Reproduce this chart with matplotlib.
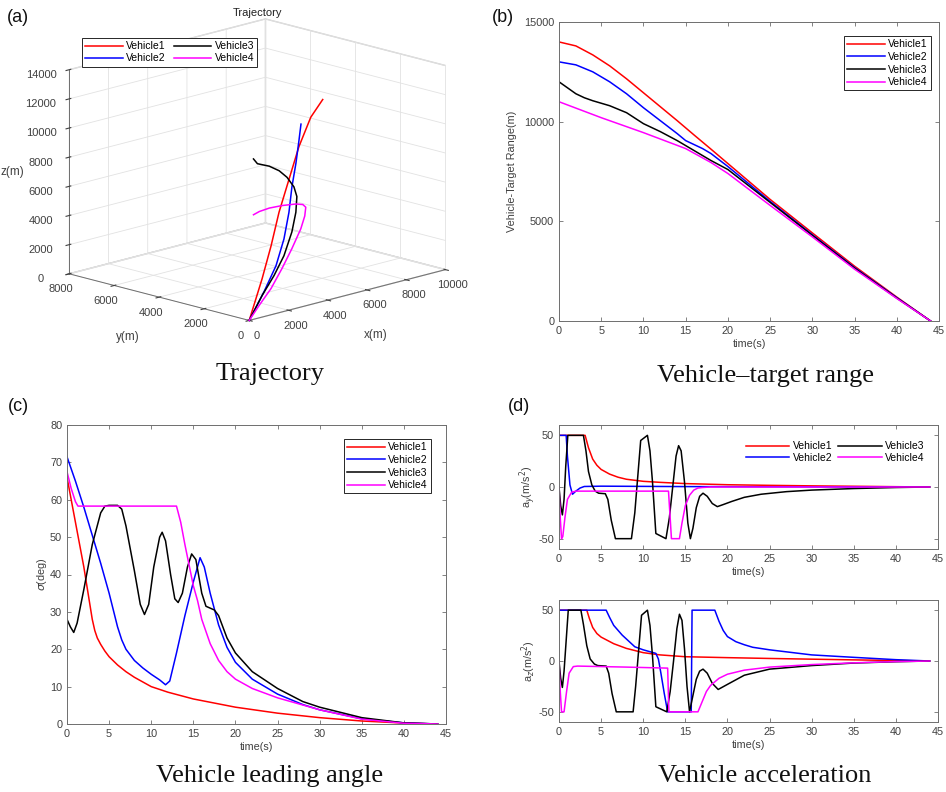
import matplotlib
matplotlib.use('Agg')
import matplotlib.pyplot as plt

plt.rcParams['font.family'] = ['Liberation Sans', 'DejaVu Sans']
plt.rcParams['font.size'] = 7.8
plt.rcParams['axes.unicode_minus'] = False

names = ['Vehicle1', 'Vehicle2', 'Vehicle3', 'Vehicle4']
colors = ['#ff0000', '#0000ff', '#000000', '#ff00ff']

# (a) 3D trajectories, from target (origin) back to launch point
v1_x = [0, 1000, 2000, 3000, 4000, 5000, 6500, 8000]
v1_y = [0, 299, 774, 1292, 1723, 2154, 2932, 3710]
v1_z = [0, 2394, 4102, 5856, 7582, 9306, 10504, 10883]
v2_x = [0, 1000, 2000, 3000, 4000, 5000, 6000, 7200, 8500]
v2_y = [0, 211, 554, 1073, 1723, 2462, 3156, 4069, 5112]
v2_z = [0, 1547, 2832, 4109, 5328, 6440, 7436, 8199, 8462]
v3_x = [0, 800, 1600, 2400, 3200, 4000, 4700, 5300, 6000, 6600, 7200, 7800, 8200]
v3_y = [0, 125, 294, 550, 895, 1415, 1981, 2635, 3552, 4425, 5387, 6437, 6961]
v3_z = [0, 1380, 2399, 3380, 4596, 5462, 6069, 6263, 6307, 6200, 5918, 5461, 5438]
v4_x = [0, 600, 1300, 2000, 2700, 3400, 4000, 4500, 5200, 6000, 6700, 7400, 7900, 8300]
v4_y = [0, 83, 164, 290, 460, 673, 1020, 1411, 2152, 3156, 4381, 5561, 6436, 7048]
v4_z = [0, 784, 1670, 2742, 3795, 4829, 5361, 5634, 5278, 4636, 3795, 2906, 2149, 1541]

# (b) vehicle-target range
r1_t = [0, 2, 4, 6, 8, 10, 12, 14, 16, 18, 20, 25, 30, 35, 40, 44]
r1 = [14000, 13800, 13350, 12800, 12150, 11450, 10750, 10050, 9330, 8620, 7900, 6100, 4420, 2750, 1200, 0]
r2_t = [0, 2, 4, 6, 8, 10, 12, 14, 15, 16, 17, 18, 20, 25, 30, 35, 40, 44]
r2 = [13000, 12850, 12500, 12000, 11400, 10700, 10050, 9400, 9050, 8850, 8650, 8400, 7750, 6000, 4330, 2680, 1170, 0]
r3_t = [0, 1, 2, 3, 4, 6, 8, 10, 11, 12, 14, 16, 18, 20, 25, 30, 35, 40, 44]
r3 = [12000, 11700, 11400, 11200, 11050, 10800, 10450, 9900, 9700, 9500, 9050, 8550, 8050, 7600, 5950, 4300, 2650, 1150, 0]
r4_t = [0, 5, 10, 15, 18, 20, 25, 30, 35, 40, 44]
r4 = [11000, 10200, 9450, 8650, 7950, 7400, 5800, 4220, 2600, 1130, 0]

# (c) leading angle sigma (deg)
s1_t = [0, 0.5, 1, 1.5, 2, 2.5, 3, 3.3, 3.6, 4, 4.5, 5, 6, 7, 8, 10, 12, 15, 20, 25, 30, 35, 40, 44]
s1 = [66, 60, 54, 48, 42, 35, 28, 25, 23, 21.3, 19.5, 18, 15.8, 14, 12.5, 10, 8.5, 6.7, 4.5, 2.9, 1.7, 0.8, 0.25, 0]
s2_t = [0, 1, 2, 3, 4, 5, 6, 6.5, 7, 8, 9, 10, 11, 11.7, 12.2, 13, 14, 15, 15.8, 16.3, 17, 18, 19, 20, 22, 25, 28, 30, 35, 40, 44]
s2 = [71.5, 65, 58, 50.5, 43, 35, 26, 22.5, 20, 17, 15, 13.3, 11.8, 10.5, 11.5, 19, 29, 38, 44.5, 42, 35, 26.5, 20.5, 16.5, 12, 8, 5.2, 3.8, 1.4, 0.3, 0]
s3_t = [0, 0.4, 0.8, 1.2, 2, 3, 4, 4.5, 5, 6, 6.5, 7, 8, 8.7, 9.2, 9.7, 10.3, 11, 11.3, 11.7, 12.3, 12.8, 13.2, 13.7,
        14.3, 14.8, 15.3, 16, 16.5, 17.5, 18, 19, 20, 22, 25, 28, 30, 35, 40, 44]
s3 = [28, 26, 24.5, 27, 36, 48, 56.5, 58.3, 58.5, 58.5, 57.5, 53, 41, 32, 29.3, 32, 42, 50, 51.3, 49, 40, 33.5, 32.5, 35,
      42, 45.5, 44, 35, 31.5, 30.5, 29, 23, 19, 14, 9.5, 6, 4.5, 1.7, 0.3, 0]
s4_t = [0, 0.5, 1, 1.3, 13, 13.5, 14, 15, 15.5, 16, 17, 18, 19, 20, 22, 25, 30, 35, 40, 44]
s4 = [67.5, 63, 59.5, 58.3, 58.3, 54, 48, 37, 33, 28, 21.5, 17, 14, 12, 9.5, 7, 3.8, 1.3, 0.2, 0]

# (d) accelerations a_y, a_z (m/s^2)
ay1_t = [0, 3.1, 3.5, 4, 4.5, 5, 6, 7, 8, 10, 12, 15, 20, 25, 30, 35, 40, 44]
ay1 = [50, 50, 38, 27, 21, 17, 12.5, 9.5, 7.5, 5.5, 4.5, 3.3, 2.2, 1.6, 1.1, 0.7, 0.3, 0]
ay2_t = [0, 0.85, 1.0, 1.3, 1.6, 2.0, 2.5, 3.0, 5, 10, 15, 20, 30, 44]
ay2 = [50, 50, 30, 2, -7, -4, -1, 0.5, 0.8, 0.6, 0.4, 0.3, 0.1, 0]
ay3_t = [0, 0.2, 0.4, 0.6, 0.8, 1.05, 2.9, 3.2, 3.5, 3.9, 4.3, 4.7, 5.5, 5.8, 6.2, 6.7, 8.6, 9.0, 9.3, 9.7, 10.5, 10.8,
         11.1, 11.5, 12.7, 13.1, 13.5, 13.9, 14.2, 14.5, 14.9, 15.3, 15.6, 15.9, 16.3, 16.7, 17.1, 17.6, 18.2, 18.8,
         19.5, 20.5, 22, 24, 27, 30, 35, 40, 44]
ay3 = [0, -18, -27, -12, 20, 50, 50, 35, 15, 2, -4, -6, -6.5, -12, -32, -50, -50, -25, 5, 45, 50, 35,
       5, -45, -50, -30, 0, 30, 40, 35, 5, -35, -50, -40, -20, -9, -6, -9, -16, -19,
       -17, -14, -10, -7, -4.5, -3, -1.5, -0.5, 0]
ay4_t = [0, 0.15, 0.3, 0.45, 0.7, 1.0, 1.5, 2.0, 13.0, 13.2, 13.35, 14.3, 14.6, 15.0, 15.5, 16.0, 16.5, 17.0, 18, 44]
ay4 = [0, -30, -50, -48, -30, -12, -5, -4, -4, -30, -50, -50, -35, -18, -8, -3, -1, -0.5, 0, 0]

az1_t = [0, 3.3, 3.6, 4, 4.5, 5, 6.5, 8, 10, 12, 15, 20, 25, 30, 35, 40, 44]
az1 = [50, 50, 42, 33, 27, 23.5, 17, 12.4, 8.2, 6, 4.2, 3.3, 2.5, 1.8, 1.1, 0.5, 0]
az2_t = [0, 5.6, 6, 6.5, 7.5, 9, 10, 11.5, 11.8, 12.1, 12.5, 12.9, 15.7, 15.8, 18.5, 19, 19.5, 20, 21, 22, 23, 25, 30, 35, 40, 44]
az2 = [50, 50, 43, 35, 25.5, 14, 11, 7.5, 2, -12, -32, -50, -50, 50, 50, 39, 30, 24, 19, 16, 13.5, 11, 6, 3.6, 1.3, 0]
az3_t = [0, 0.2, 0.4, 0.6, 0.85, 1.1, 2.6, 2.9, 3.3, 3.7, 4.2, 4.6, 5.6, 5.9, 6.3, 6.8, 8.8, 9.1, 9.4, 9.8, 10.5, 10.8,
         11.1, 11.5, 12.8, 13.2, 13.6, 14.0, 14.3, 14.6, 14.9, 15.2, 15.5, 15.8, 16.3, 16.7, 17.1, 17.6, 18.2, 18.9,
         20, 22, 25, 30, 35, 40, 44]
az3 = [0, -17, -26, -10, 20, 50, 50, 36, 15, 2, -3, -4.5, -5, -12, -32, -50, -50, -25, 5, 45, 50, 35,
       5, -45, -50, -30, 0, 32, 46, 40, 12, -25, -50, -38, -18, -10, -8, -12, -22, -28,
       -23, -14, -8, -4.5, -2, -0.7, 0]
az4_t = [0, 0.15, 0.3, 0.6, 0.9, 1.2, 1.7, 2.2, 8, 12.9, 13.05, 16.5, 17, 17.5, 18, 19, 20, 22, 25, 30, 35, 40, 44]
az4 = [0, -30, -50, -50, -30, -12, -5.5, -5, -6, -7, -50, -50, -40, -30, -24, -17, -13, -9, -6, -3.5, -1.8, -0.6, 0]

W, H = 946, 792
fig = plt.figure(figsize=(W / 100, H / 100), dpi=100)

tick_col = '#404040'
spine_col = '#6e6e6e'
lw = 1.1


def box(x0, y0, x1, y1):
    # pixel box (top-left origin) -> figure rect
    return [x0 / W, 1 - y1 / H, (x1 - x0) / W, (y1 - y0) / H]


def style2d(ax):
    for s in ax.spines.values():
        s.set_color(spine_col)
        s.set_linewidth(0.7)
    ax.tick_params(direction='in', top=True, right=True, length=3, width=0.6,
                   colors=spine_col, labelcolor=tick_col, labelsize=7.8)


def legend_style(leg, frame=True):
    fr = leg.get_frame()
    fr.set_edgecolor('#262626' if frame else 'none')
    fr.set_linewidth(0.7)
    fr.set_boxstyle('square', pad=0)


# ---------- (a) ----------
ax3 = fig.add_axes(box(18, 14, 488, 334), projection='3d')
trajs = [(v1_x, v1_y, v1_z), (v2_x, v2_y, v2_z), (v3_x, v3_y, v3_z), (v4_x, v4_y, v4_z)]
for (x, y, z), c, n in zip(trajs, colors, names):
    ax3.plot(x, y, z, color=c, lw=lw, label=n)
ax3.set_xlim(0, 10000)
ax3.set_ylim(0, 8000)
ax3.set_zlim(0, 14000)
ax3.set_xticks(range(0, 10001, 2000))
ax3.set_yticks(range(0, 8001, 2000))
ax3.set_zticks(range(0, 14001, 2000))
ax3.set_proj_type('ortho')
ax3.view_init(elev=15, azim=-135)
ax3.set_box_aspect((1.09, 1, 0.83), zoom=1.31)
for a in (ax3.xaxis, ax3.yaxis, ax3.zaxis):
    a.set_pane_color((1, 1, 1, 1))
    a.pane.set_edgecolor('#d0d0d0')
    a._axinfo['grid']['color'] = '#e2e2e2'
    a._axinfo['grid']['linewidth'] = 0.6
    a.line.set_color(spine_col)
    a.line.set_linewidth(0.7)
ax3.tick_params(axis='x', labelsize=8, colors=tick_col, pad=-3)
ax3.tick_params(axis='y', labelsize=8, colors=tick_col, pad=-3)
ax3.tick_params(axis='z', labelsize=8, colors=tick_col, pad=1)
ax3.set_xlabel('x(m)', color=tick_col, labelpad=-2, fontsize=8.5)
ax3.set_ylabel('y(m)', color=tick_col, labelpad=-2, fontsize=8.5)
ax3.set_zlabel('z(m)', color=tick_col, labelpad=-3, fontsize=8.5)
leg = ax3.legend(ncol=2, loc='upper left', bbox_to_anchor=(77 / W, 1 - 33 / H),
                 bbox_transform=fig.transFigure, fontsize=7.5, handlelength=3.6,
                 columnspacing=0.8, borderpad=0.3, labelspacing=0.2, handletextpad=0.3,
                 fancybox=False, framealpha=1)
legend_style(leg)
fig.text(257 / W, 1 - 13 / H, 'Trajectory', ha='center', va='center', fontsize=8, color='#202020')

# ---------- (b) ----------
axb = fig.add_axes(box(559, 22, 939, 321))
for (t, r), c, n in zip([(r1_t, r1), (r2_t, r2), (r3_t, r3), (r4_t, r4)], colors, names):
    axb.plot(t, r, color=c, lw=lw, label=n)
axb.set_xlim(0, 45)
axb.set_ylim(0, 15000)
axb.set_xticks(range(0, 46, 5))
axb.set_yticks([0, 5000, 10000, 15000])
style2d(axb)
axb.set_xlabel('time(s)', color=tick_col, labelpad=2)
axb.set_ylabel('Vehicle-Target Range(m)', color=tick_col, labelpad=5)
leg = axb.legend(loc='upper right', bbox_to_anchor=(936 / W, 1 - 31 / H), bbox_transform=fig.transFigure,
                 fontsize=7.5, handlelength=3.6, borderpad=0.3, labelspacing=0.25, handletextpad=0.3,
                 fancybox=False, framealpha=1)
legend_style(leg)

# ---------- (c) ----------
axc = fig.add_axes(box(67, 425, 446, 724))
for (t, s), c, n in zip([(s1_t, s1), (s2_t, s2), (s3_t, s3), (s4_t, s4)], colors, names):
    axc.plot(t, s, color=c, lw=lw, label=n)
axc.set_xlim(0, 45)
axc.set_ylim(0, 80)
axc.set_xticks(range(0, 46, 5))
axc.set_yticks(range(0, 81, 10))
style2d(axc)
axc.set_xlabel('time(s)', color=tick_col, labelpad=2)
axc.set_ylabel(r'$\sigma$(deg)', color=tick_col, labelpad=1)
leg = axc.legend(loc='upper right', bbox_to_anchor=(436 / W, 1 - 434 / H), bbox_transform=fig.transFigure,
                 fontsize=7.5, handlelength=3.6, borderpad=0.3, labelspacing=0.25, handletextpad=0.3,
                 fancybox=False, framealpha=1)
legend_style(leg)

# ---------- (d) ----------
axd1 = fig.add_axes(box(559, 425, 938, 549))
for (t, a), c, n in zip([(ay1_t, ay1), (ay2_t, ay2), (ay3_t, ay3), (ay4_t, ay4)], colors, names):
    axd1.plot(t, a, color=c, lw=lw, label=n)
axd2 = fig.add_axes(box(559, 600, 938, 722))
for (t, a), c, n in zip([(az1_t, az1), (az2_t, az2), (az3_t, az3), (az4_t, az4)], colors, names):
    axd2.plot(t, a, color=c, lw=lw, label=n)
for ax in (axd1, axd2):
    ax.set_xlim(0, 45)
    ax.set_ylim(-60, 60)
    ax.set_xticks(range(0, 46, 5))
    ax.set_yticks([-50, 0, 50])
    style2d(ax)
    ax.set_xlabel('time(s)', color=tick_col, labelpad=2)
axd1.set_ylabel(r'a$_y$(m/s$^2$)', color=tick_col, labelpad=0)
axd2.set_ylabel(r'a$_z$(m/s$^2$)', color=tick_col, labelpad=0)
leg = axd1.legend(ncol=2, loc='upper right', bbox_to_anchor=(932 / W, 1 - 434 / H), bbox_transform=fig.transFigure,
                  fontsize=7.5, handlelength=4.2, borderpad=0.2, labelspacing=0.15, handletextpad=0.3,
                  columnspacing=0.6, fancybox=False, frameon=False)

# panel letters and captions
for x, y, s in [(18, 17, '(a)'), (503, 17, '(b)'), (18, 407, '(c)'), (519, 407, '(d)')]:
    fig.text(x / W, 1 - y / H, s, ha='center', va='center', fontsize=13, color='#111111')
for x, y, s in [(270, 374, 'Trajectory'), (765, 376, 'Vehicle\u2013target range'),
                (270, 776, 'Vehicle leading angle'), (765, 776, 'Vehicle acceleration')]:
    fig.text(x / W, 1 - y / H, s, ha='center', va='center', fontsize=19,
             family=['Liberation Serif', 'DejaVu Serif'], color='#111111')

fig.savefig('out.png', dpi=100)
